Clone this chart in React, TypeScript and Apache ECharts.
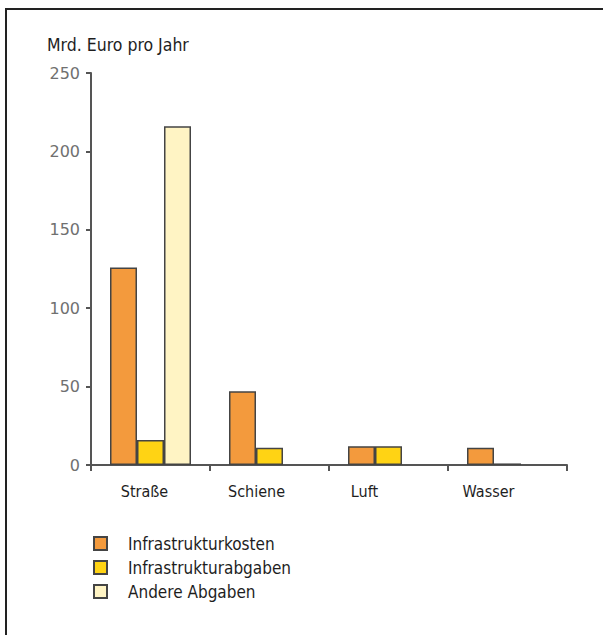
import React, { useEffect, useRef } from "react";
import * as echarts from "echarts";

const categories = ["Straße", "Schiene", "Luft", "Wasser"];
const labelShift = [6, 13, 24, 19];
const seriesNames = ["Infrastrukturkosten", "Infrastrukturabgaben", "Andere Abgaben"];
const kosten = [126, 47, 12, 11];
const abgaben = [16, 11, 12, 1];
const andere: (number | null)[] = [216, null, null, null];
const colors = ["#F39A3D", "#FFD314", "#FFF4C4"];
const yTicks = [0, 50, 100, 150, 200, 250];

export default function App() {
  const ref = useRef<HTMLDivElement>(null);
  useEffect(() => {
    if (!ref.current) return;
    const chart = echarts.init(ref.current, undefined, { renderer: "svg" });
    const cond = "DejaVu Sans Condensed";
    const rich: Record<string, any> = {};
    categories.forEach((_, i) => {
      rich["c" + i] = {
        fontFamily: cond,
        fontSize: 16,
        color: "#1e1e1e",
        padding: [0, labelShift[i] * 2, 0, 0],
      };
    });
    const mk = (name: string, data: (number | null)[], color: string) => ({
      name,
      type: "bar",
      data,
      barWidth: 27,
      barGap: "0%",
      itemStyle: { color, borderColor: "#444", borderWidth: 1.5 },
    });
    chart.setOption({
      animation: false,
      backgroundColor: "#fff",
      title: {
        text: "Mrd. Euro pro Jahr",
        left: 42,
        top: 31,
        textStyle: { fontFamily: cond, fontSize: 17.5, fontWeight: "normal", color: "#1e1e1e" },
      },
      graphic: [
        { type: "line", shape: { x1: 6, y1: 9, x2: 603, y2: 9 }, style: { stroke: "#222", lineWidth: 2 } },
        { type: "line", shape: { x1: 6, y1: 8, x2: 6, y2: 635 }, style: { stroke: "#222", lineWidth: 2 } },
      ],
      legend: {
        orient: "vertical",
        left: 88,
        top: 530,
        itemWidth: 13,
        itemHeight: 13,
        itemGap: 7,
        icon: "rect",
        data: seriesNames,
        selectedMode: false,
        textStyle: { fontFamily: cond, fontSize: 17, color: "#1e1e1e", padding: [0, 0, 0, 16] },
      },
      grid: { left: 91, right: 36, top: 73, bottom: 170, containLabel: false },
      xAxis: {
        type: "category",
        data: categories,
        axisLine: { lineStyle: { color: "#555", width: 2 } },
        axisTick: { show: true, length: 6, lineStyle: { color: "#555", width: 2 } },
        axisLabel: {
          margin: 18,
          formatter: (v: string) => "{c" + categories.indexOf(v) + "|" + v + "}",
          rich,
        },
      },
      yAxis: {
        type: "value",
        min: yTicks[0],
        max: yTicks[yTicks.length - 1],
        interval: 50,
        splitLine: { show: false },
        axisLine: { show: true, lineStyle: { color: "#555", width: 2 } },
        axisTick: { show: true, length: 5, lineStyle: { color: "#555", width: 2 } },
        axisLabel: { margin: 11, fontFamily: "DejaVu Sans", fontSize: 16, color: "#707070" },
      },
      series: [mk(seriesNames[0], kosten, colors[0]), mk(seriesNames[1], abgaben, colors[1]), mk(seriesNames[2], andere, colors[2])],
    });
    return () => chart.dispose();
  }, []);
  return (
    <div
      ref={ref}
      style={{ position: "fixed", left: 0, top: 0, width: 603, height: 635, background: "#fff" }}
    />
  );
}
